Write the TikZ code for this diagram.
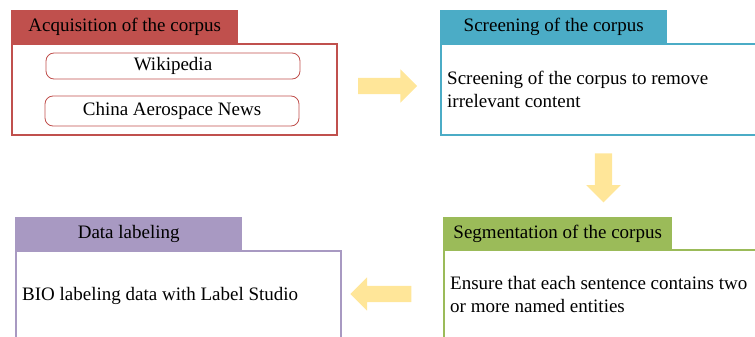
\documentclass[tikz,border=0pt]{standalone}
\usepackage{fontspec}
\setmainfont{Liberation Serif}
\usetikzlibrary{shapes.arrows}
\definecolor{tab_red}{HTML}{C0504D}
\definecolor{tab_teal}{HTML}{4BACC6}
\definecolor{tab_green}{HTML}{9BBB59}
\definecolor{tab_purple}{HTML}{A899C2}
\definecolor{arrow_yellow}{HTML}{FFE699}

\tikzset{
	tabbox/.style = {fill = #1, draw = none, minimum width = 227pt, minimum height = 33pt, inner sep = 0pt, text height = 14pt, text depth = 3pt, anchor = south west, font = \fontsize{19}{24}\selectfont},
	bodybox/.style = {draw = #1, line width = 2pt, minimum height = 91pt, inner sep = 0pt, anchor = north west},
	sourcebox/.style = {draw = tab_red, line width = 0.8pt, rounded corners = 8pt, minimum width = 254pt, inner sep = 0pt, font = \fontsize{19}{24}\selectfont},
	bodytext/.style = {anchor = west, align = left, inner sep = 0pt, font = \fontsize{19}{23}\selectfont},
	flowarrow/.style = {single arrow, fill = arrow_yellow, draw = none, inner sep = 0pt, single arrow head extend = 8.5pt, single arrow head indent = 0pt}
}

\begin{document}
\begin{tikzpicture}[x = 1pt, y = -1pt]
	\useasboundingbox (0, 0) rectangle (755, 337);
	\clip (0, 0) rectangle (755, 337);
	% acquisition
	\node[bodybox = tab_red, minimum width = 325pt] (acq) at (11, 43) {};
	\node[tabbox = tab_red] (acqtab) at (11, 43) {Acquisition of the corpus};
	\node[sourcebox, minimum height = 26pt] (wiki) at (173, 66) {Wikipedia};
	\node[sourcebox, minimum height = 30pt] (news) at (172, 111) {China Aerospace News};
	% screening
	\node[bodybox = tab_teal, minimum width = 330pt] (scr) at (440, 43) {};
	\node[tabbox = tab_teal] (scrtab) at (440, 43) {Screening of the corpus};
	\node[bodytext] (scrtext) at (447, 89) {Screening of the corpus to remove\\irrelevant content};
	% segmentation
	\node[bodybox = tab_green, minimum width = 330pt] (seg) at (443, 249) {};
	\node[tabbox = tab_green, minimum height = 32pt, minimum width = 229pt] (segtab) at (443, 249) {Segmentation of the corpus};
	\node[bodytext] (segtext) at (450, 294) {Ensure that each sentence contains two\\or more named entities};
	% labeling
	\node[bodybox = tab_purple, minimum width = 325pt] (lab) at (15, 250) {};
	\node[tabbox = tab_purple] (labtab) at (15, 250) {Data labeling};
	\node[bodytext] (labtext) at (22, 296) {BIO labeling data with Label Studio};
	% arrows
	\node[flowarrow, minimum height = 59pt] (arrowA) at (383.5, 86) {\rule{0pt}{16pt}};
	\node[flowarrow, minimum height = 49pt, rotate = -90] (arrowB) at (603.5, 173.5) {\rule{0pt}{17pt}};
	\node[flowarrow, minimum height = 61pt, rotate = 180] (arrowC) at (385, 294) {\rule{0pt}{16pt}};
\end{tikzpicture}
\end{document}
